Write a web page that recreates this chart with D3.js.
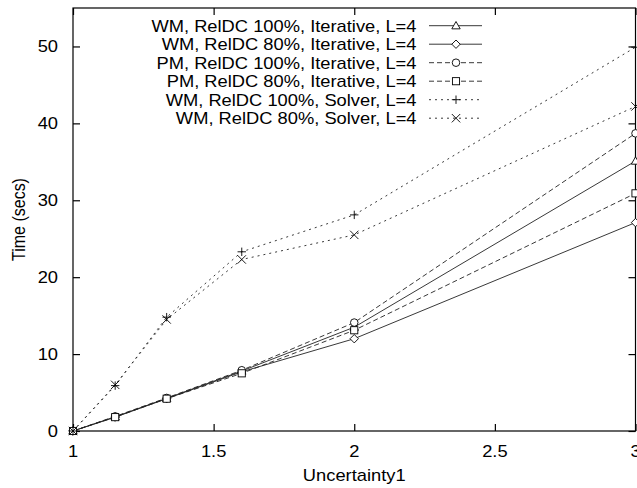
<!DOCTYPE html>
<html><head><meta charset="utf-8">
<script src="https://cdn.jsdelivr.net/npm/d3@7"></script>
<style>body{margin:0;background:#fff}svg{display:block}text{font-family:"Liberation Sans",Arial,Helvetica,sans-serif;fill:#000}</style>
</head><body>
<script>
const xValues = [1, 1.15, 1.333, 1.6, 2, 3];
const seriesNames = [
  "WM, RelDC 100%, Iterative, L=4",
  "WM, RelDC 80%, Iterative, L=4",
  "PM, RelDC 100%, Iterative, L=4",
  "PM, RelDC 80%, Iterative, L=4",
  "WM, RelDC 100%, Solver, L=4",
  "WM, RelDC 80%, Solver, L=4"
];
const wm100Iter = [0, 1.85, 4.25, 7.8, 13.5, 35.1];
const wm80Iter  = [0, 1.8, 4.2, 7.7, 12.0, 27.1];
const pm100Iter = [0, 1.9, 4.3, 7.9, 14.1, 38.7];
const pm80Iter  = [0, 1.8, 4.2, 7.5, 13.1, 30.9];
const wm100Solv = [0, 5.9, 14.8, 23.3, 28.1, 49.9];
const wm80Solv  = [0, 6.0, 14.5, 22.3, 25.5, 42.2];
const xTicks = [1, 1.5, 2, 2.5, 3];
const yTicks = [0, 10, 20, 30, 40, 50];
const xLabel = "Uncertainty1";
const yLabel = "Time (secs)";

const series = [wm100Iter, wm80Iter, pm100Iter, pm80Iter, wm100Solv, wm80Solv];
const markers = ["triangle", "diamond", "circle", "square", "plus", "cross"];
const dashes = [null, null, "5,3", "5,3", "2,4", "2,4"];

const W = 637, H = 488;
const m = {left: 73, right: 1.5, top: 8, bottom: 57};
const SX = 1.145, FS = 16;

const svg = d3.select("body").append("svg").attr("width", W).attr("height", H);
const x = d3.scaleLinear().domain([1, 3]).range([m.left, W - m.right]);
const y = d3.scaleLinear().domain([0, 55]).range([H - m.bottom, m.top]);

function stext(g, tx, ty, str, anchor) {
  return g.append("text").attr("transform", `translate(${tx},${ty}) scale(${SX},1)`)
    .attr("text-anchor", anchor).style("font-size", FS + "px").text(str);
}

// axes with inner ticks
const tl = 7;
const gx = svg.append("g").attr("transform", `translate(0,${y(0)})`)
  .call(d3.axisBottom(x).tickValues(xTicks).tickSize(-tl).tickFormat(""));
const gxt = svg.append("g").attr("transform", `translate(0,${y(55)})`)
  .call(d3.axisTop(x).tickValues(xTicks).tickSize(-tl).tickFormat(""));
const gy = svg.append("g").attr("transform", `translate(${x(1)},0)`)
  .call(d3.axisLeft(y).tickValues(yTicks).tickSize(-tl).tickFormat(""));
const gyr = svg.append("g").attr("transform", `translate(${x(3)},0)`)
  .call(d3.axisRight(y).tickValues(yTicks).tickSize(-tl).tickFormat(""));
[gx, gxt, gy, gyr].forEach(g => { g.select(".domain").remove(); g.selectAll("line").attr("stroke", "#000").attr("stroke-width", 1.2); });

svg.append("rect").attr("x", x(1)).attr("y", y(55)).attr("width", x(3) - x(1)).attr("height", y(0) - y(55))
  .attr("fill", "none").attr("stroke", "#000").attr("stroke-width", 1.2);

// tick labels
xTicks.forEach(t => stext(svg, x(t), y(0) + 26, d3.format("")(t), "middle"));
yTicks.forEach(t => stext(svg, x(1) - 15, y(t) + 6, String(t), "end"));
stext(svg, (x(1) + x(3)) / 2, 481, xLabel, "middle");
svg.append("text").attr("transform", `translate(25,${(y(0) + y(55)) / 2}) rotate(-90) scale(1,${SX})`)
  .attr("text-anchor", "middle").style("font-size", FS + "px").text(yLabel);

function drawMarker(g, type, cx, cy) {
  const s = 4.2;
  const col = "#000", sw = 0.9;
  if (type === "triangle") g.append("path").attr("d", `M${cx},${cy - s}L${cx + s},${cy + s * 0.75}L${cx - s},${cy + s * 0.75}Z`).attr("fill", "#fff").attr("stroke", col).attr("stroke-width", sw);
  else if (type === "diamond") g.append("path").attr("d", `M${cx},${cy - s}L${cx + s},${cy}L${cx},${cy + s}L${cx - s},${cy}Z`).attr("fill", "#fff").attr("stroke", col).attr("stroke-width", sw);
  else if (type === "circle") g.append("circle").attr("cx", cx).attr("cy", cy).attr("r", s * 0.9).attr("fill", "#fff").attr("stroke", col).attr("stroke-width", sw);
  else if (type === "square") g.append("rect").attr("x", cx - s * 0.85).attr("y", cy - s * 0.85).attr("width", s * 1.7).attr("height", s * 1.7).attr("fill", "#fff").attr("stroke", col).attr("stroke-width", sw);
  else if (type === "plus") g.append("path").attr("d", `M${cx - s},${cy}H${cx + s}M${cx},${cy - s}V${cy + s}`).attr("stroke", col).attr("stroke-width", sw);
  else g.append("path").attr("d", `M${cx - s},${cy - s}L${cx + s},${cy + s}M${cx - s},${cy + s}L${cx + s},${cy - s}`).attr("stroke", col).attr("stroke-width", sw);
}

const line = d3.line().x((d, i) => x(xValues[i])).y(d => y(d));
const plot = svg.append("g");
series.forEach((vals, k) => {
  plot.append("path").datum(vals).attr("d", line).attr("fill", "none")
    .attr("stroke", "#222").attr("stroke-width", 0.9).attr("stroke-dasharray", dashes[k]);
});
series.forEach((vals, k) => {
  vals.forEach((v, i) => drawMarker(plot, markers[k], x(xValues[i]), y(v)));
});

// legend
const leg = svg.append("g");
seriesNames.forEach((name, k) => {
  const ly = 25.7 + k * 18.5;
  stext(leg, 416.5, ly + 5.8, name, "end");
  leg.append("line").attr("x1", 429).attr("x2", 482).attr("y1", ly).attr("y2", ly)
    .attr("stroke", "#222").attr("stroke-width", 0.9).attr("stroke-dasharray", dashes[k]);
  drawMarker(leg, markers[k], 456, ly);
});
</script>
</body></html>
